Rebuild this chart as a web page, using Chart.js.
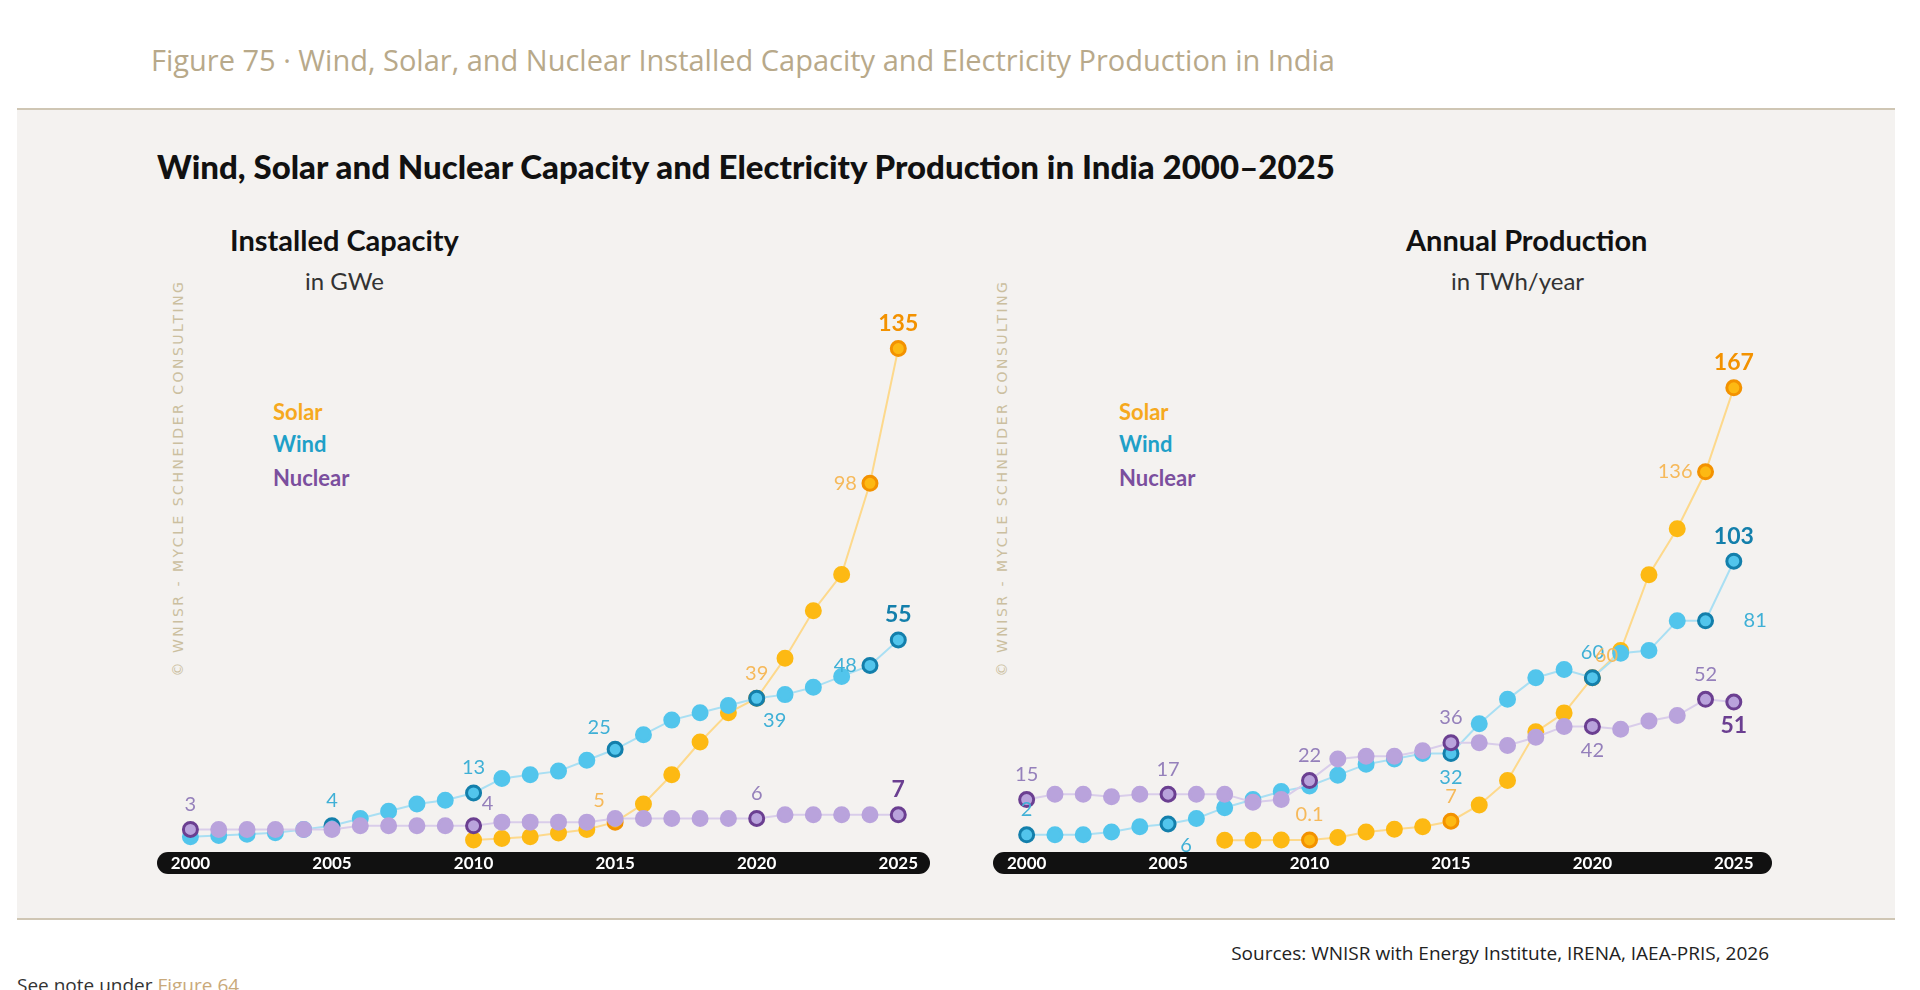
<!DOCTYPE html>
<html><head><meta charset="utf-8">
<script src="https://cdn.jsdelivr.net/npm/chart.js@4"></script>
<style>
body{margin:0;width:1920px;height:990px;background:#fff;position:relative;overflow:hidden;font-family:Lato,"Open Sans",sans-serif}
.a{position:absolute;white-space:nowrap}
#panel{position:absolute;left:17px;top:108px;width:1878px;height:808px;background:#f4f2f0;border-top:2px solid #cfc6b4;border-bottom:2px solid #cfc6b4}
canvas{position:absolute}
.wm{position:absolute;transform:translate(-50%,-50%) rotate(-90deg);color:#cbbf9f;font-size:14px;letter-spacing:2.5px;font-family:"DejaVu Sans",sans-serif;white-space:nowrap}
.lg{position:absolute;font-weight:bold;font-size:22px}
</style></head><body>
<div class="a" style="left:151px;top:40px;font-size:29px;color:#b8a98a;font-family:'Open Sans',sans-serif">Figure 75 · Wind, Solar, and Nuclear Installed Capacity and Electricity Production in India</div>
<div id="panel"></div>
<div class="a" style="left:157px;top:146px;font-size:33px;font-weight:900;color:#111">Wind, Solar and Nuclear Capacity and Electricity Production in India 2000–2025</div>
<div class="a" style="left:230px;top:222px;font-size:29px;font-weight:bold;color:#111">Installed Capacity</div>
<div class="a" style="left:305px;top:266px;font-size:24px;color:#333">in GWe</div>
<div class="a" style="left:1406px;top:222px;font-size:29px;font-weight:bold;color:#111">Annual Production</div>
<div class="a" style="left:1451px;top:266px;font-size:24px;color:#333">in TWh/year</div>
<div class="wm" style="left:178px;top:478px">© WNISR - MYCLE SCHNEIDER CONSULTING</div>
<div class="wm" style="left:1002px;top:478px">© WNISR - MYCLE SCHNEIDER CONSULTING</div>
<div class="lg" style="left:273px;top:398px;color:#f6a91e">Solar</div>
<div class="lg" style="left:273px;top:430px;color:#1fa0c8">Wind</div>
<div class="lg" style="left:273px;top:464px;color:#7b4f9e">Nuclear</div>
<div class="lg" style="left:1119px;top:398px;color:#f6a91e">Solar</div>
<div class="lg" style="left:1119px;top:430px;color:#1fa0c8">Wind</div>
<div class="lg" style="left:1119px;top:464px;color:#7b4f9e">Nuclear</div>
<div class="a" style="right:151px;top:940px;font-size:19px;color:#222;font-family:'Open Sans',sans-serif">Sources: WNISR with Energy Institute, IRENA, IAEA-PRIS, 2026</div>
<div class="a" style="left:17px;top:972px;font-size:19px;color:#333;font-family:'Open Sans',sans-serif">See note under <span style="color:#c9a97a">Figure 64</span></div>
<canvas id="c1" style="left:147px;top:250px" width="793" height="632"></canvas>
<canvas id="c2" style="left:983px;top:250px" width="799" height="632"></canvas>
<script>
const years=[2000,2001,2002,2003,2004,2005,2006,2007,2008,2009,2010,2011,2012,2013,2014,2015,2016,2017,2018,2019,2020,2021,2022,2023,2024,2025];
const tickYears=[2000,2005,2010,2015,2020,2025];
// Installed capacity (GWe)
const capSolar=[null,null,null,null,null,null,null,null,null,null,0.1,0.5,1,2,3,5,10,18,27,35,39,50,63,73,98,135];
const capWind=[1,1.3,1.7,2.1,3,4,6,8,10,11,13,17,18,19,22,25,29,33,35,37,39,40,42,45,48,55];
const capNuclear=[3,3,3,3,3,3,4,4,4,4,4,5,5,5,5,6,6,6,6,6,6,7,7,7,7,7];
// Annual production (TWh/year)
const prodSolar=[null,null,null,null,null,null,null,0.01,0.02,0.05,0.1,1,3,4,5,7,13,22,40,47,60,70,98,115,136,167];
const prodWind=[2,2,2,3,5,6,8,12,15,18,20,24,28,30,32,32,43,52,60,63,60,69,70,81,81,103];
const prodNuclear=[15,17,17,16,17,17,17,17,14,15,22,30,31,31,33,36,36,35,38,42,42,41,44,46,52,51];
// value labels: [series, year, text, placement, bold]
const capLabels=[['n',2000,'3','a'],['n',2010,'4','ar'],['n',2020,'6','a'],['n',2025,'7','a',1],
 ['w',2005,'4','a'],['w',2010,'13','a'],['w',2015,'25','al'],['w',2020,'39','br'],['w',2024,'48','l'],['w',2025,'55','a',1],
 ['s',2015,'5','al'],['s',2020,'39','a'],['s',2024,'98','l'],['s',2025,'135','a',1]];
const prodLabels=[['n',2000,'15','a'],['n',2005,'17','a'],['n',2010,'22','a'],['n',2015,'36','a'],['n',2020,'42','b'],['n',2024,'52','a'],['n',2025,'51','b',1],
 ['w',2000,'2','a'],['w',2005,'6','br'],['w',2015,'32','b'],['w',2020,'60','a'],['w',2024,'81','r2'],['w',2025,'103','a',1],
 ['s',2010,'0.1','a'],['s',2015,'7','a'],['s',2020,'60','ar'],['s',2024,'136','l'],['s',2025,'167','a',1]];

const C={s:{pt:'#fdb913',ln:'#fdd98c',dk:'#f39200',lb:'#f6b95a'},
 w:{pt:'#52c5ec',ln:'#a9dff3',dk:'#137fab',lb:'#3fb0d6'},
 n:{pt:'#b9a3dc',ln:'#d9cdea',dk:'#6b3f91',lb:'#9580bb'}};
const idx={s:0,w:1,n:2};

function mk(id,s,w,n,labels,xmin,xmax,ymin,ymax){
 const lab=new Set(labels.map(l=>l[0]+l[1]));
 const ds=(key,data)=>({data:years.map((y,i)=>({x:y,y:data[i]})),borderColor:C[key].ln,borderWidth:2,
  pointBackgroundColor:C[key].pt,pointRadius:7,pointBorderWidth:3,clip:false,spanGaps:false,
  pointBorderColor:ctx=>lab.has(key+years[ctx.dataIndex])?C[key].dk:C[key].pt});
 new Chart(document.getElementById(id),{type:'line',
  data:{datasets:[ds('s',s),ds('w',w),ds('n',n)].reverse()},
  options:{responsive:false,animation:false,events:[],layout:{padding:{left:0,right:0,top:0,bottom:30}},
   plugins:{legend:{display:false},tooltip:{enabled:false}},
   scales:{x:{type:'linear',min:xmin,max:xmax,display:false},y:{min:ymin,max:ymax,display:false}}},
  plugins:[{id:'deco',beforeDatasetsDraw(ch){
    const c=ch.ctx,a=ch.chartArea,xs=ch.scales.x;
    const h=22,t=a.bottom,l=a.left,r=a.right;
    c.save();c.fillStyle='#111';c.beginPath();
    c.moveTo(l+h/2,t);c.lineTo(r-h/2,t);c.arc(r-h/2,t+h/2,h/2,-Math.PI/2,Math.PI/2);
    c.lineTo(l+h/2,t+h);c.arc(l+h/2,t+h/2,h/2,Math.PI/2,Math.PI*1.5);c.fill();
    c.fillStyle='#fff';c.font='bold 17px Lato';c.textAlign='center';c.textBaseline='middle';
    tickYears.forEach(y=>c.fillText(String(y),xs.getPixelForValue(y),t+h/2+1));
    c.restore();},
   afterDatasetsDraw(ch){
    const c=ch.ctx,xs=ch.scales.x,ys=ch.scales.y;
    c.save();
    labels.forEach(([k,yr,t,p,b])=>{
     const arr=[s,w,n][idx[k]];const v=arr[years.indexOf(yr)];
     let x=xs.getPixelForValue(yr),y=ys.getPixelForValue(v);
     c.font=(b?'bold 23px':'20px')+' Lato';c.fillStyle=b?C[k].dk:C[k].lb;
     c.textAlign='center';c.textBaseline='middle';
     if(p==='a')y-=25;else if(p==='b')y+=24;
     else if(p==='al'){x-=16;y-=22;}else if(p==='ar'){x+=14;y-=22;}
     else if(p==='br'){x+=18;y+=22;}else if(p==='l'){c.textAlign='right';x-=13;}
     else if(p==='r2'){c.textAlign='left';x+=38;}
     c.fillText(t,x,y);});
    c.restore();}}]});
}
mk('c1',capSolar,capWind,capNuclear,capLabels,1998.82,2026.12,-3.2,159.3);
mk('c2',prodSolar,prodWind,prodNuclear,prodLabels,1998.81,2026.35,-4.36,214.2);
</script></body></html>
